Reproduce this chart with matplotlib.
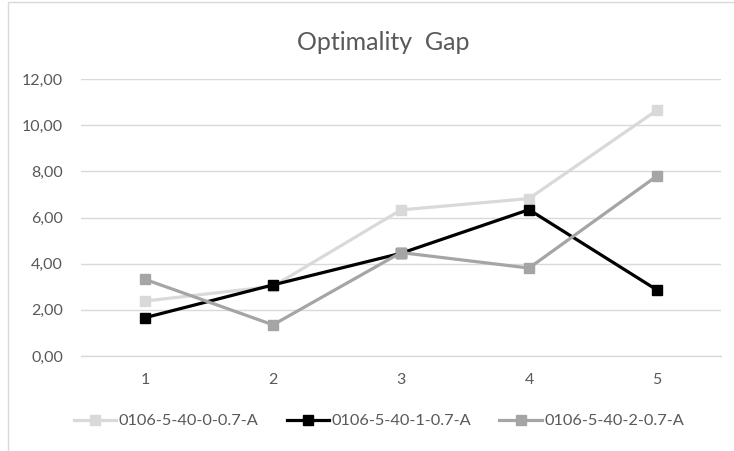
import numpy as np
import matplotlib
matplotlib.use("Agg")
import matplotlib.pyplot as plt
from matplotlib.patches import Rectangle

plt.rcParams['font.family'] = ['Lato', 'DejaVu Sans']

# -------------------------
# DATA
# -------------------------
categories = ['1', '2', '3', '4', '5']
series_names = ['0106-5-40-0-0.7-A', '0106-5-40-1-0.7-A', '0106-5-40-2-0.7-A']
gap_0 = [2.38, 3.02, 6.33, 6.82, 10.65]
gap_1 = [1.66, 3.08, 4.45, 6.34, 2.86]
gap_2 = [3.32, 1.35, 4.48, 3.81, 7.80]
colors = ['#D9D9D9', '#000000', '#A5A5A5']

# -------------------------
# FIGURE
# -------------------------
fig = plt.figure(figsize=(7.34, 4.51), dpi=100)
ax = fig.add_axes([81 / 734, (451 - 356) / 451, 640 / 734, 277 / 451])

# chart border (partly cut off at the right/bottom)
fig.patches.append(Rectangle((8 / 734, -0.1), 1.2, (451 - 2) / 451 + 0.1,
                             transform=fig.transFigure, fill=False,
                             edgecolor='#D9D9D9', linewidth=1))

x = np.arange(len(categories))
for vals, name, c in zip([gap_0, gap_1, gap_2], series_names, colors):
    ax.plot(x, vals, color=c, linewidth=2.3, marker='s', markersize=6.5,
            markeredgecolor=c, label=name, solid_joinstyle='round')

ax.set_xlim(-0.5, len(categories) - 0.5)
ax.set_ylim(0, 12)
ax.set_yticks(np.arange(0, 12.1, 2))
ax.set_yticklabels([f"{v:.2f}".replace('.', ',') for v in np.arange(0, 12.1, 2)])
ax.set_xticks(x)
ax.set_xticklabels(categories)

ax.grid(axis='y', color='#D9D9D9', linewidth=1)
ax.set_axisbelow(True)
for s in ['top', 'right', 'left']:
    ax.spines[s].set_visible(False)
ax.spines['bottom'].set_color('#D9D9D9')
ax.spines['bottom'].set_linewidth(1)
ax.tick_params(axis='both', length=0, colors='#595959', labelsize=11.5)
ax.tick_params(axis='y', pad=13)
ax.tick_params(axis='x', pad=12)

fig.text(383 / 734, 1 - 42 / 451, 'Optimality  Gap', ha='center', va='center',
         fontsize=18, color='#595959')

fig.legend(loc='center', bbox_to_anchor=(379 / 734, 1 - 421 / 451), ncol=3,
           frameon=False, fontsize=11.8, labelcolor='#595959', handlelength=2.6,
           handletextpad=0.15, columnspacing=1.7)

plt.savefig('out.png', dpi=100)
